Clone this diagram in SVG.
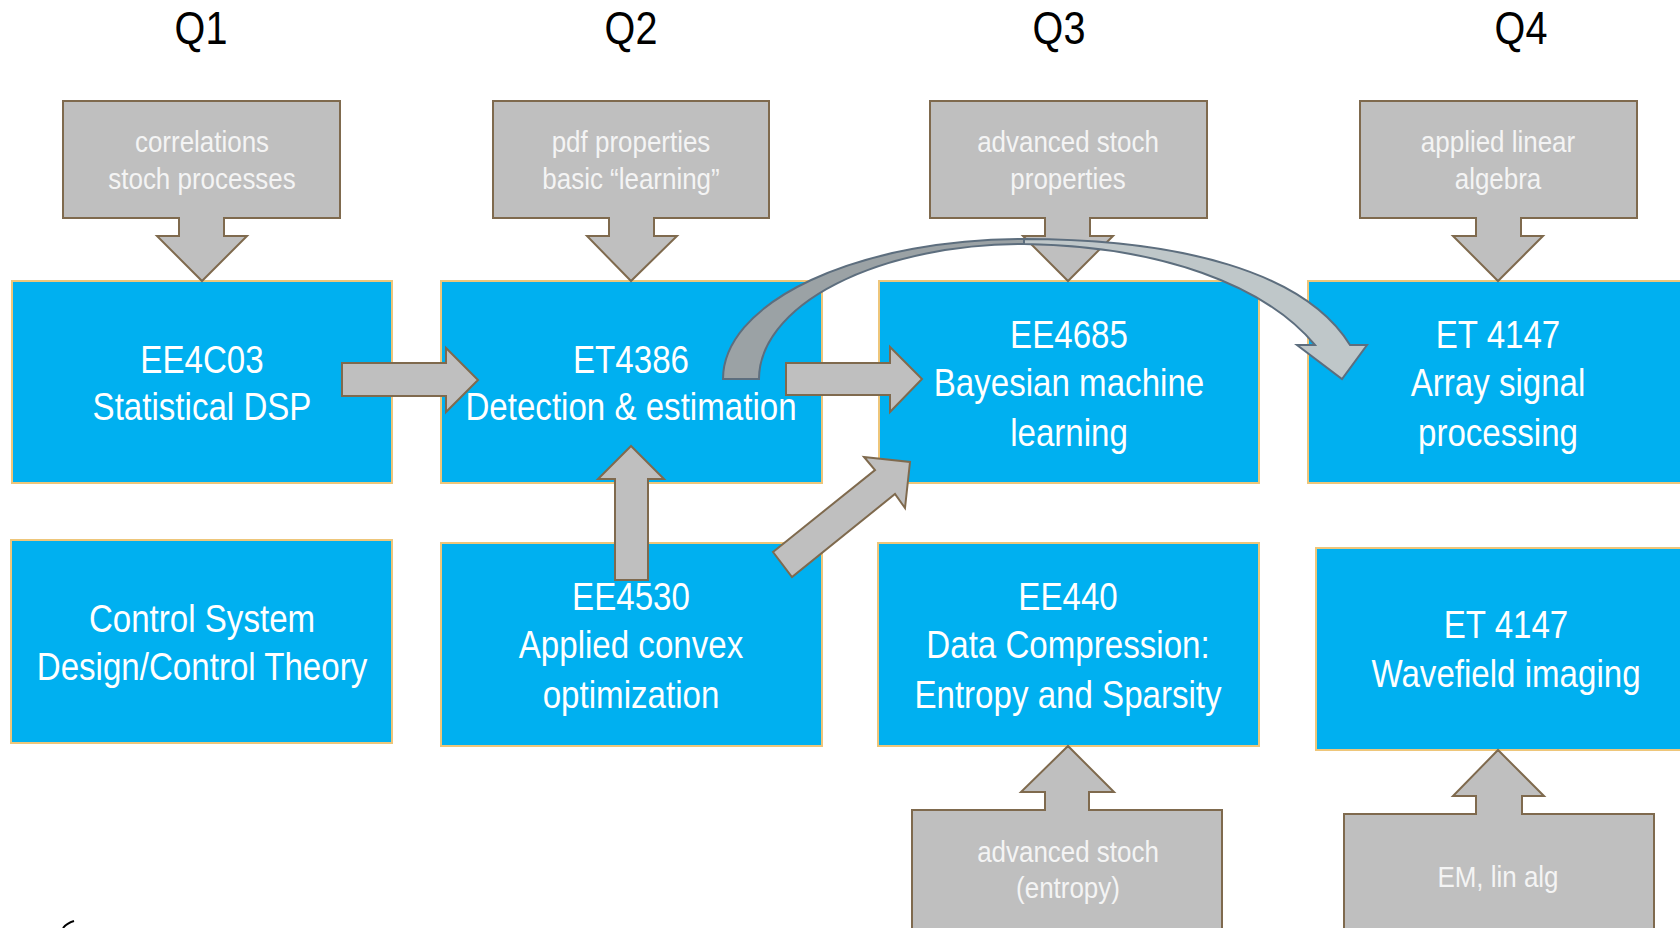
<svg xmlns="http://www.w3.org/2000/svg" width="1680" height="928" viewBox="0 0 1680 928">
  <style>
    .course { fill: #00B0F0; stroke: #EEC67A; stroke-width: 2; }
    .prereq { fill: #BFBFBF; stroke: #7F6A4E; stroke-width: 2; stroke-linejoin: miter; }
    .flow { fill: #BFBFBF; stroke: #7F6A4E; stroke-width: 2; }
    .bend-back { fill: #9BA2A5; stroke: #5D6E7E; stroke-width: 2; }
    .bend-front { fill: #BFC7C9; stroke: #5D6E7E; stroke-width: 2; }
    text { font-family: "Liberation Sans", Arial, sans-serif; text-anchor: middle; }
    .q { font-size: 46px; fill: #000000; }
    .ct { font-size: 38.5px; fill: #FFFFFF; }
    .pt { font-size: 29.5px; fill: #F4F4F4; }
  </style>

  <!-- quarter headings -->
  <g id="quarters">
    <text class="q" transform="translate(201 0) scale(0.86 1)" x="0" y="44">Q1</text>
    <text class="q" transform="translate(631 0) scale(0.86 1)" x="0" y="44">Q2</text>
    <text class="q" transform="translate(1059 0) scale(0.86 1)" x="0" y="44">Q3</text>
    <text class="q" transform="translate(1521 0) scale(0.86 1)" x="0" y="44">Q4</text>
  </g>

  <!-- course boxes -->
  <g id="ee4c03">
    <rect class="course" x="12" y="281" width="380" height="202"/>
    <g transform="translate(202 0) scale(0.86 1)">
      <text class="ct" x="0" y="373">EE4C03</text>
      <text class="ct" x="0" y="420">Statistical DSP</text>
    </g>
  </g>
  <g id="et4386">
    <rect class="course" x="441" y="281" width="381" height="202"/>
    <g transform="translate(631 0) scale(0.86 1)">
      <text class="ct" x="0" y="373">ET4386</text>
      <text class="ct" x="0" y="420">Detection &amp; estimation</text>
    </g>
  </g>
  <g id="ee4685">
    <rect class="course" x="879" y="281" width="380" height="202"/>
    <g transform="translate(1069 0) scale(0.86 1)">
      <text class="ct" x="0" y="348">EE4685</text>
      <text class="ct" x="0" y="396">Bayesian machine</text>
      <text class="ct" x="0" y="446">learning</text>
    </g>
  </g>
  <g id="et4147-array">
    <rect class="course" x="1308" y="281" width="400" height="202"/>
    <g transform="translate(1498 0) scale(0.86 1)">
      <text class="ct" x="0" y="348">ET 4147</text>
      <text class="ct" x="0" y="396">Array signal</text>
      <text class="ct" x="0" y="446">processing</text>
    </g>
  </g>
  <g id="control">
    <rect class="course" x="11" y="540" width="381" height="203"/>
    <g transform="translate(202 0) scale(0.86 1)">
      <text class="ct" x="0" y="632">Control System</text>
      <text class="ct" x="0" y="680">Design/Control Theory</text>
    </g>
  </g>
  <g id="ee4530">
    <rect class="course" x="441" y="543" width="381" height="203"/>
    <g transform="translate(631 0) scale(0.86 1)">
      <text class="ct" x="0" y="610">EE4530</text>
      <text class="ct" x="0" y="658">Applied convex</text>
      <text class="ct" x="0" y="708">optimization</text>
    </g>
  </g>
  <g id="ee440">
    <rect class="course" x="878" y="543" width="381" height="203"/>
    <g transform="translate(1068 0) scale(0.86 1)">
      <text class="ct" x="0" y="610">EE440</text>
      <text class="ct" x="0" y="658">Data Compression:</text>
      <text class="ct" x="0" y="708">Entropy and Sparsity</text>
    </g>
  </g>
  <g id="et4147-wavefield">
    <rect class="course" x="1316" y="548" width="400" height="202"/>
    <g transform="translate(1506 0) scale(0.86 1)">
      <text class="ct" x="0" y="638">ET 4147</text>
      <text class="ct" x="0" y="687">Wavefield imaging</text>
    </g>
  </g>

  <!-- prerequisite callouts -->
  <g id="pre-q1">
    <path class="prereq" d="M63,101 H340 V218 H224 V236 H247 L202,281 L157,236 H179 V218 H63 Z"/>
    <g transform="translate(202 0) scale(0.88 1)">
      <text class="pt" x="0" y="152">correlations</text>
      <text class="pt" x="0" y="189">stoch processes</text>
    </g>
  </g>
  <g id="pre-q2">
    <path class="prereq" d="M493,101 H769 V218 H654 V236 H677 L631,281 L587,236 H609 V218 H493 Z"/>
    <g transform="translate(631 0) scale(0.88 1)">
      <text class="pt" x="0" y="152">pdf properties</text>
      <text class="pt" x="0" y="189">basic “learning”</text>
    </g>
  </g>
  <g id="pre-q3">
    <path class="prereq" d="M930,101 H1207 V218 H1090 V236 H1113 L1068,281 L1023,236 H1045 V218 H930 Z"/>
    <g transform="translate(1068 0) scale(0.88 1)">
      <text class="pt" x="0" y="152">advanced stoch</text>
      <text class="pt" x="0" y="189">properties</text>
    </g>
  </g>
  <g id="pre-q4">
    <path class="prereq" d="M1360,101 H1637 V218 H1521 V236 H1543 L1498,281 L1453,236 H1476 V218 H1360 Z"/>
    <g transform="translate(1498 0) scale(0.88 1)">
      <text class="pt" x="0" y="152">applied linear</text>
      <text class="pt" x="0" y="189">algebra</text>
    </g>
  </g>
  <g id="pre-entropy">
    <path class="prereq" d="M912,945 V810 H1045 V792 H1021 L1068,746 L1114,792 H1089 V810 H1222 V945 Z"/>
    <g transform="translate(1068 0) scale(0.88 1)">
      <text class="pt" x="0" y="862">advanced stoch</text>
      <text class="pt" x="0" y="898">(entropy)</text>
    </g>
  </g>
  <g id="pre-em">
    <path class="prereq" d="M1344,945 V814 H1476 V796 H1453 L1498,750 L1544,796 H1522 V814 H1654 V945 Z"/>
    <g transform="translate(1498 0) scale(0.88 1)">
      <text class="pt" x="0" y="887">EM, lin alg</text>
    </g>
  </g>

  <!-- connectors between courses -->
  <g id="connectors">
    <path class="flow" d="M342,363 H446 V348 L478,380 L446,412 V396 H342 Z"/>
    <path class="flow" d="M786,363 H890 V347 L922,379 L890,412 V395 H786 Z"/>
    <path class="flow" d="M615,580 V479 H598 L631,446 L664,479 H648 V580 Z"/>
    <path class="flow" d="M773,552 L875,470 L864,457 L910,462 L905,508 L895,494 L792,577 Z"/>
    <path class="bend-back" d="M723,379 A301,140 0 0 1 1024,239 L1024,244 A265,135 0 0 0 759,379 Z"/>
    <path class="bend-front" d="M1024,239 C1180,239 1305,272 1350,345 H1367 L1342,379 L1297,345 H1315 C1265,285 1160,246 1024,244 Z"/>
  </g>

  <path d="M63,928 Q67,923 74,921" fill="none" stroke="#000000" stroke-width="2"/>
</svg>
